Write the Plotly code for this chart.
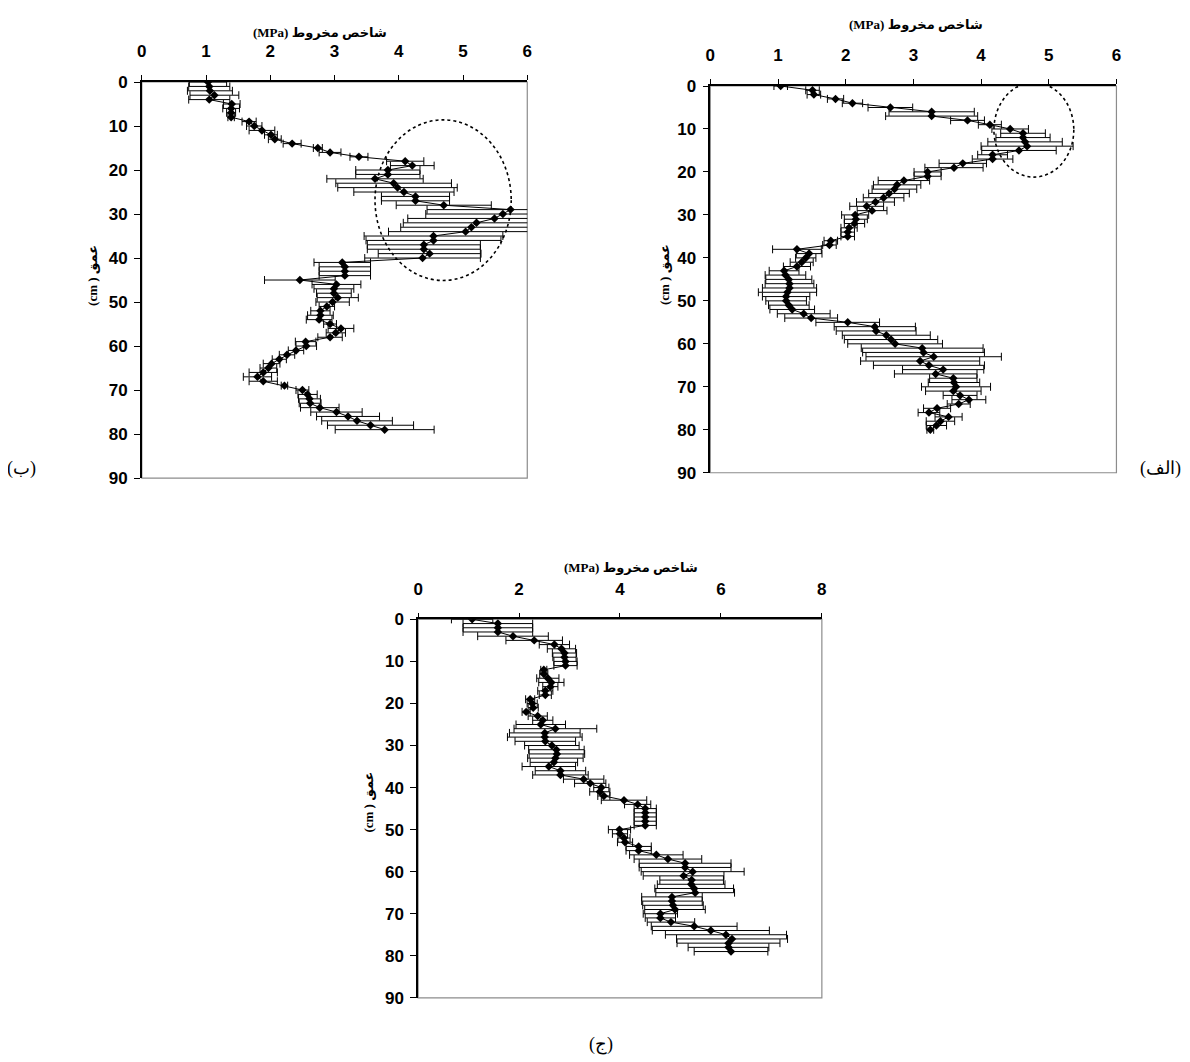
import plotly.graph_objects as go

# ---------------- data ----------------
depth_b = list(range(0, 80))
cone_b = [1.03, 1.05, 1.06, 1.13, 1.05, 1.40, 1.39, 1.39, 1.39, 1.67,
          1.75, 1.87, 2.01, 2.07, 2.34, 2.74, 2.93, 3.38, 4.10, 4.21,
          3.83, 3.83, 3.63, 3.92, 3.98, 4.08, 4.26, 4.26, 4.70, 5.74,
          5.62, 5.49, 5.21, 5.13, 5.04, 4.54, 4.54, 4.39, 4.39, 4.48,
          4.37, 3.12, 3.16, 3.16, 3.16, 2.46, 3.03, 2.99, 2.99, 3.05,
          2.97, 2.88, 2.78, 2.78, 2.76, 2.93, 3.10, 3.02, 2.93, 2.55,
          2.56, 2.40, 2.26, 2.14, 2.02, 1.97, 1.89, 1.80, 1.89, 2.22,
          2.50, 2.58, 2.61, 2.62, 2.77, 3.03, 3.21, 3.35, 3.56, 3.78]
err_b = [0.29, 0.32, 0.35, 0.38, 0.32, 0.13, 0.13, 0.07, 0.05, 0.11,
         0.12, 0.20, 0.10, 0.10, 0.14, 0.07, 0.17, 0.14, 0.29, 0.34,
         0.50, 0.50, 0.75, 0.90, 0.93, 0.78, 0.53, 0.53, 0.74, 1.30,
         1.20, 1.35, 1.14, 1.10, 1.20, 1.08, 1.05, 0.88, 0.88, 0.80,
         0.90, 0.44, 0.40, 0.40, 0.40, 0.55, 0.38, 0.31, 0.27, 0.32,
         0.26, 0.12, 0.15, 0.20, 0.20, 0.10, 0.20, 0.15, 0.19, 0.16,
         0.16, 0.12, 0.12, 0.11, 0.13, 0.13, 0.22, 0.22, 0.22, 0.05,
         0.10, 0.15, 0.17, 0.17, 0.30, 0.40, 0.49, 0.55, 0.67, 0.77]

depth_a = list(range(0, 81))
cone_a = [1.04, 1.51, 1.53, 1.85, 2.10, 2.66, 3.27, 3.27, 3.80, 4.13,
          4.43, 4.62, 4.62, 4.65, 4.68, 4.56, 4.17, 4.17, 3.73, 3.60,
          3.21, 3.21, 2.86, 2.76, 2.72, 2.64, 2.56, 2.44, 2.31, 2.39,
          2.14, 2.15, 2.13, 2.05, 2.03, 2.03, 1.78, 1.76, 1.28, 1.46,
          1.41, 1.35, 1.28, 1.09, 1.11, 1.16, 1.17, 1.17, 1.14, 1.12,
          1.12, 1.16, 1.21, 1.38, 1.49, 2.03, 2.43, 2.45, 2.60, 2.67,
          2.73, 3.13, 3.15, 3.30, 3.10, 3.23, 3.44, 3.33, 3.59, 3.60,
          3.63, 3.59, 3.69, 3.82, 3.67, 3.35, 3.23, 3.52, 3.40, 3.34,
          3.25]
err_a = [0.10, 0.10, 0.10, 0.12, 0.15, 0.33, 0.63, 0.68, 0.25, 0.17,
         0.27, 0.33, 0.40, 0.55, 0.68, 0.55, 0.22, 0.30, 0.35, 0.43,
         0.20, 0.20, 0.38, 0.35, 0.33, 0.30, 0.30, 0.28, 0.25, 0.22,
         0.20, 0.17, 0.15, 0.12, 0.10, 0.10, 0.10, 0.10, 0.36, 0.19,
         0.15, 0.17, 0.20, 0.22, 0.30, 0.34, 0.36, 0.40, 0.43, 0.35,
         0.30, 0.30, 0.33, 0.39, 0.39, 0.47, 0.60, 0.59, 0.65, 0.69,
         0.70, 0.90, 0.90, 1.00, 0.88, 0.82, 0.60, 0.61, 0.35, 0.38,
         0.51, 0.41, 0.25, 0.25, 0.17, 0.20, 0.16, 0.20, 0.21, 0.15,
         0.05]

depth_c = list(range(0, 80))
cone_c = [1.07, 1.58, 1.58, 1.58, 1.88, 2.30, 2.70, 2.84, 2.90, 2.90,
          2.92, 2.92, 2.49, 2.49, 2.57, 2.64, 2.62, 2.52, 2.52, 2.22,
          2.26, 2.28, 2.14, 2.37, 2.47, 2.43, 2.72, 2.51, 2.51, 2.52,
          2.65, 2.74, 2.75, 2.72, 2.69, 2.59, 2.82, 2.82, 3.28, 3.41,
          3.63, 3.60, 3.68, 4.08, 4.35, 4.50, 4.50, 4.50, 4.50, 4.50,
          3.99, 4.00, 4.08, 4.10, 4.37, 4.37, 4.72, 4.95, 5.29, 5.29,
          5.44, 5.26, 5.42, 5.41, 5.47, 5.49, 5.03, 5.03, 5.05, 5.09,
          4.80, 4.80, 5.01, 5.47, 5.80, 6.10, 6.22, 6.15, 6.15, 6.20]
err_c = [0.41, 0.69, 0.69, 0.69, 0.70, 0.56, 0.30, 0.28, 0.24, 0.23,
         0.23, 0.23, 0.06, 0.08, 0.22, 0.25, 0.15, 0.15, 0.12, 0.09,
         0.10, 0.10, 0.08, 0.19, 0.20, 0.49, 0.82, 0.70, 0.74, 0.60,
         0.54, 0.55, 0.55, 0.55, 0.47, 0.53, 0.50, 0.55, 0.40, 0.31,
         0.15, 0.20, 0.12, 0.45, 0.26, 0.22, 0.22, 0.22, 0.22, 0.22,
         0.22, 0.15, 0.12, 0.15, 0.25, 0.25, 0.53, 0.67, 0.91, 0.91,
         1.02, 0.80, 0.63, 0.67, 0.78, 0.78, 0.60, 0.60, 0.60, 0.60,
         0.34, 0.30, 0.47, 0.85, 1.16, 1.20, 1.10, 1.02, 0.80, 0.73]

# highlighted zones (dotted ellipses): [x0, x1, depth0, depth1]
ellipse_b = [3.63, 5.75, 8.6, 45.1]
ellipse_a = [4.19, 5.37, -0.8, 21.2]

x_ticks_ab = [0, 1, 2, 3, 4, 5, 6]
x_ticks_c = [0, 2, 4, 6, 8]
y_ticks = [0, 10, 20, 30, 40, 50, 60, 70, 80, 90]

x_title = "(MPa) شاخص مخروط"
y_title = "(cm ) عمق"
panel_labels = ["(ب)", "(الف)", "(ج)"]

# ---------------- figure ----------------
W, H = 1190, 1062
fig = go.Figure()

# screen-pixel -> paper fraction (with a small empirical correction for page offset)
def px_x(p):
    return ((p - 11) / 0.993) / W

def px_y(p):
    return 1 - ((p - 15) / 0.982) / H

panels = [
    (depth_b, cone_b, err_b, "x", "y", [0, 6], x_ticks_ab, (140, 526), (80, 476)),
    (depth_a, cone_a, err_a, "x2", "y2", [0, 6], x_ticks_ab, (709.3, 1116), (84, 470.7)),
    (depth_c, cone_c, err_c, "x3", "y3", [0, 8], x_ticks_c, (416.7, 821), (617.3, 995.7)),
]

tickfont = dict(family="Liberation Sans Narrow, Liberation Sans, Arial, sans-serif",
                size=17, color="black", weight="bold")

for i, (d, v, e, xa, ya, xr, xt, dx, dy) in enumerate(panels):
    fig.add_trace(go.Scatter(
        x=v, y=d, xaxis=xa, yaxis=ya, mode="lines+markers",
        line=dict(color="black", width=1),
        marker=dict(symbol="diamond", size=6.5, color="black"),
        error_x=dict(type="data", array=e, visible=True, color="black",
                     thickness=1, width=4),
        showlegend=False, hoverinfo="skip",
    ))
    sfx = "" if i == 0 else str(i + 1)
    fig.layout["xaxis" + sfx] = dict(
        domain=[px_x(dx[0]), px_x(dx[1])], range=xr, side="top",
        anchor=ya, tickvals=xt, showline=True, linecolor="black", linewidth=1.5,
        ticks="outside", ticklen=5, tickcolor="black", tickwidth=1,
        showgrid=False, zeroline=False, tickfont=tickfont, ticklabelstandoff=11,
        fixedrange=True,
    )
    fig.layout["yaxis" + sfx] = dict(
        domain=[px_y(dy[1]), px_y(dy[0])], range=[90, 0],
        anchor=xa, tickvals=y_ticks, showline=True, linecolor="black", linewidth=1.5,
        ticks="outside", ticklen=6, tickcolor="black", tickwidth=1,
        showgrid=False, zeroline=False, tickfont=tickfont, ticklabelstandoff=3,
        fixedrange=True,
    )
    fig.add_shape(type="rect", xref=xa + " domain", yref=ya + " domain",
                  x0=0, x1=1, y0=0, y1=1, line=dict(color="#8c8c8c", width=1.2),
                  layer="below")

for ell, xa, ya in [(ellipse_b, "x", "y"), (ellipse_a, "x2", "y2")]:
    fig.add_shape(type="circle", xref=xa, yref=ya,
                  x0=ell[0], x1=ell[1], y0=ell[2], y1=ell[3],
                  line=dict(color="black", width=1.6, dash="dot"), layer="above")

titlefont = dict(family="Liberation Serif, DejaVu Sans, serif", size=13, color="black", weight="bold")
for cx, cy in [(318, 30), (915, 22), (630, 565)]:
    fig.add_annotation(text=x_title, x=px_x(cx), y=px_y(cy), xref="paper", yref="paper",
                       showarrow=False, font=titlefont, xanchor="center", yanchor="middle")
for cx, cy in [(90, 273), (663, 273), (367, 800)]:
    fig.add_annotation(text=y_title, x=px_x(cx), y=px_y(cy), xref="paper", yref="paper",
                       showarrow=False, font=titlefont, textangle=-90,
                       xanchor="center", yanchor="middle")
labfont = dict(family="Liberation Serif, DejaVu Serif, serif", size=18, color="black")
for txt, cx, cy in [(panel_labels[0], 20, 466), (panel_labels[1], 1160, 466), (panel_labels[2], 600, 1042)]:
    fig.add_annotation(text=txt, x=px_x(cx), y=px_y(cy), xref="paper", yref="paper",
                       showarrow=False, font=labfont, xanchor="center", yanchor="middle")

fig.update_layout(
    width=W, height=H, margin=dict(l=0, r=0, t=0, b=0),
    paper_bgcolor="white", plot_bgcolor="white",
    showlegend=False,
)

fig.write_html("out.html")
